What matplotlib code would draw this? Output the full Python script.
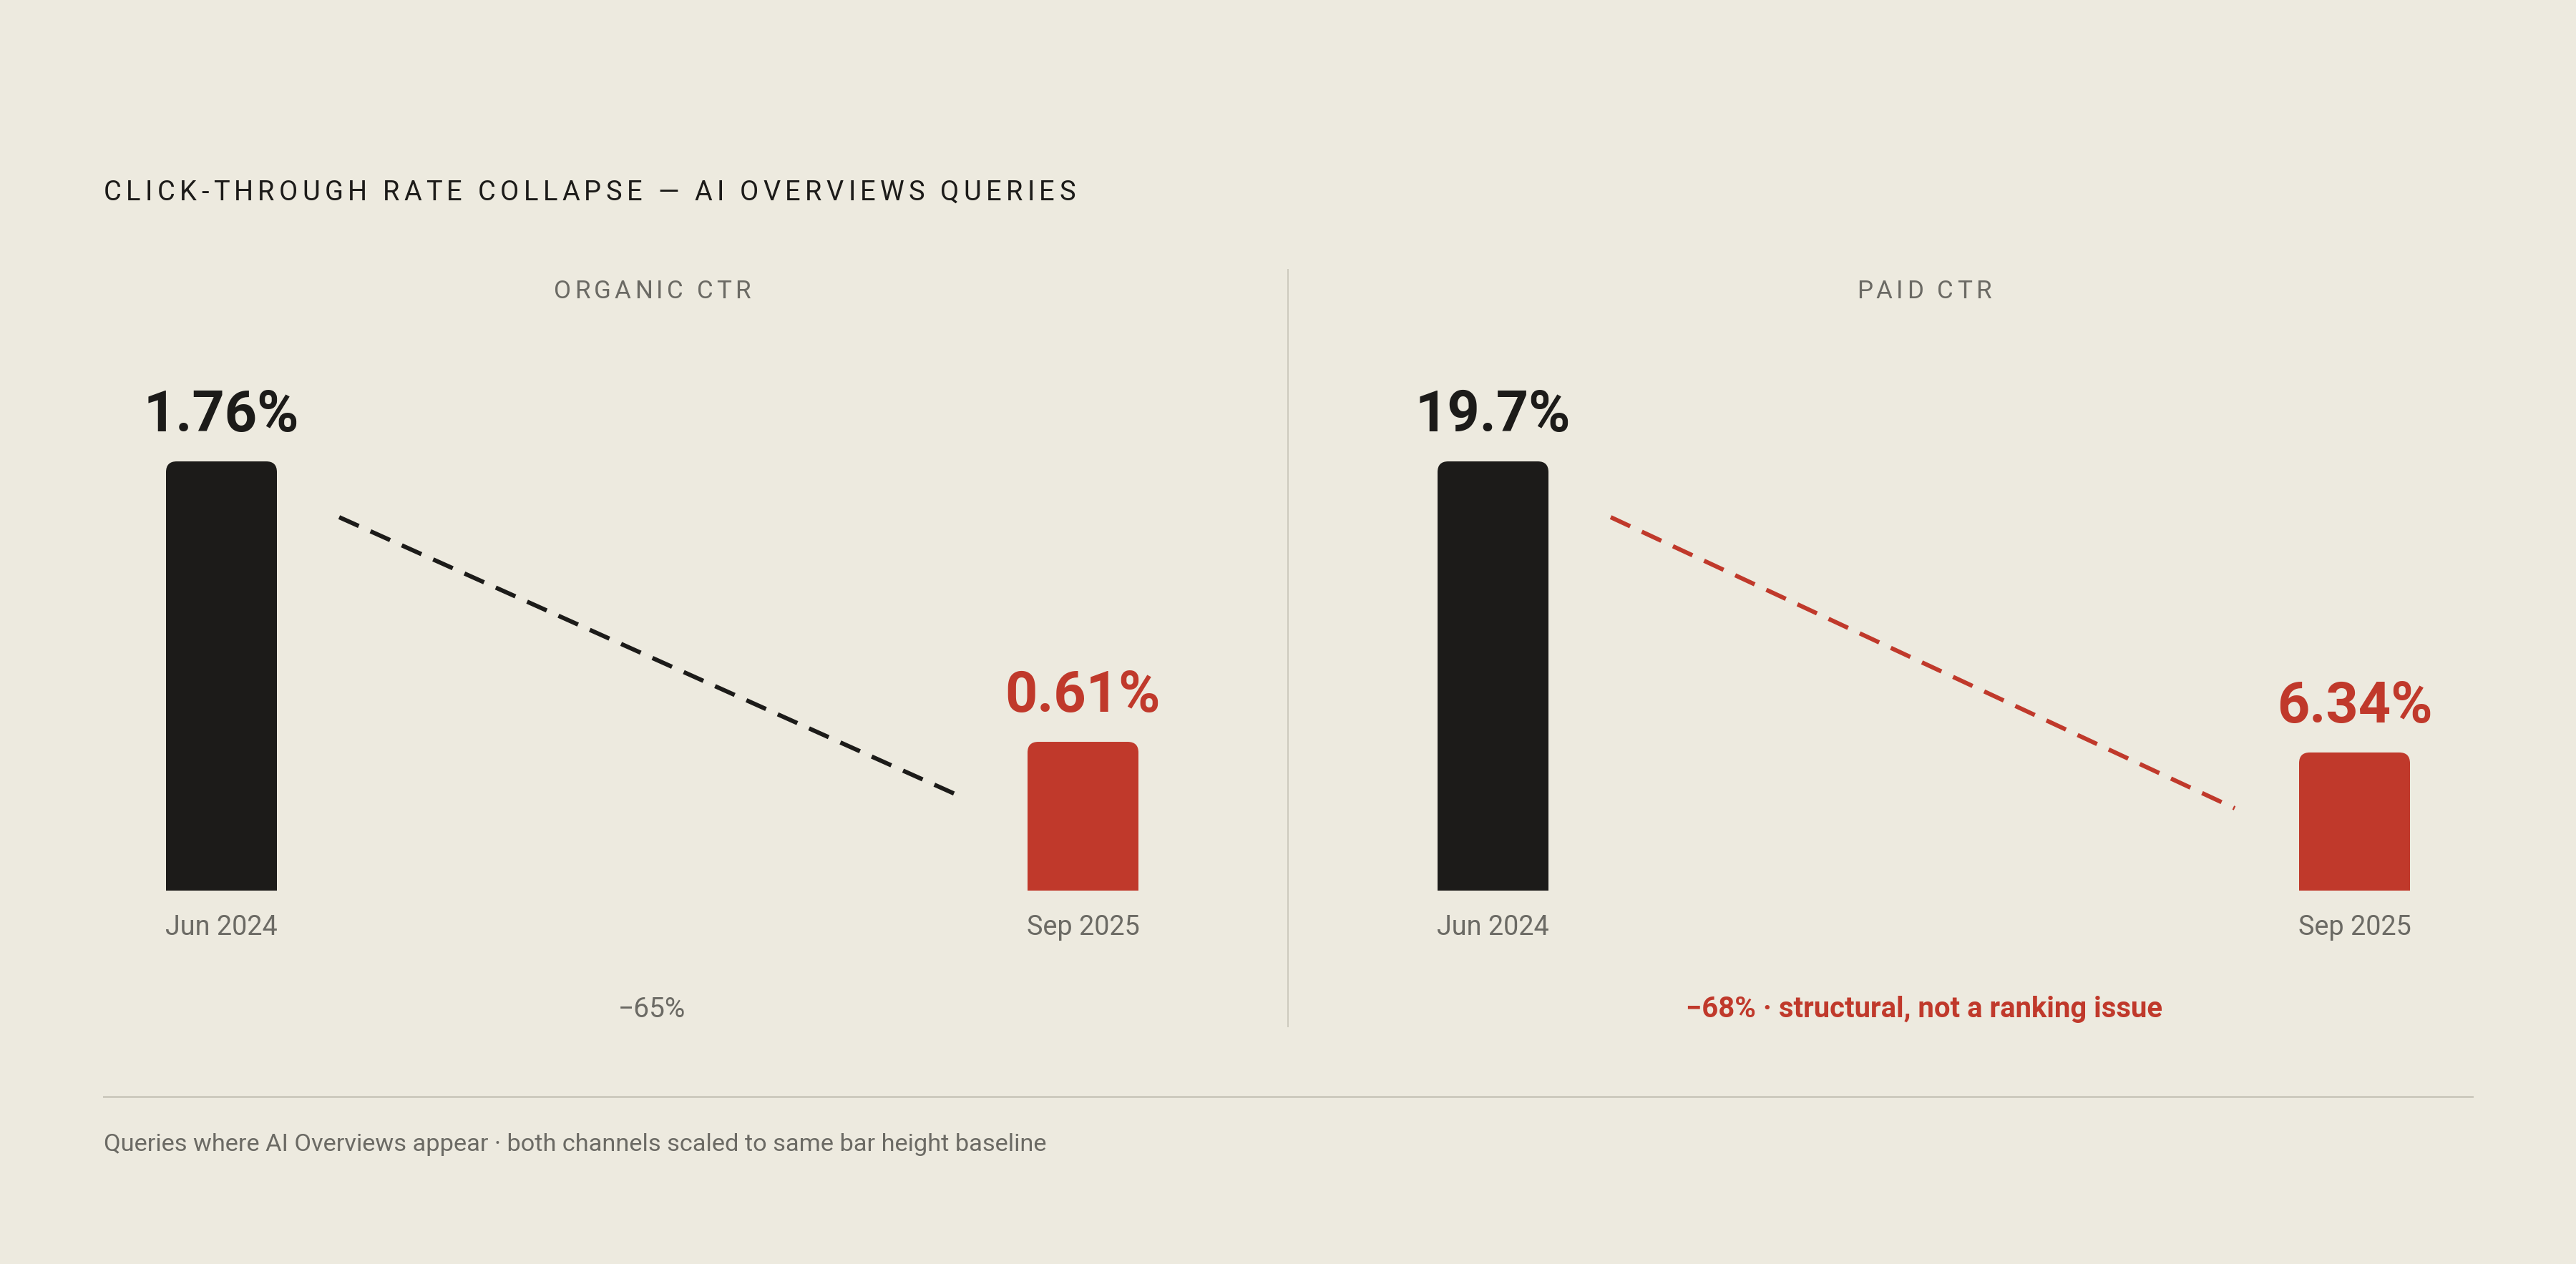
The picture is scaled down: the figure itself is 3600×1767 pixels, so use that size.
import matplotlib.pyplot as plt
from matplotlib.patches import FancyBboxPatch, Rectangle
from matplotlib.transforms import ScaledTranslation

# data
periods = ['Jun 2024', 'Sep 2025']
organic_ctr = [1.76, 0.61]
paid_ctr = [19.7, 6.34]
organic_labels = ['1.76%', '0.61%']
paid_labels = ['19.7%', '6.34%']
organic_change = '\u221265%'
paid_change = '\u221268% \u00b7 structural, not a ranking issue'

title = 'CLICK-THROUGH RATE COLLAPSE \u2014 AI OVERVIEWS QUERIES'
footnote = 'Queries where AI Overviews appear \u00b7 both channels scaled to same bar height baseline'

BG = '#EDEADF'
INK = '#1C1B19'
RED = '#C0392B'
GREY = '#6B6A64'
RULE = '#CDCABE'

W, H, DPI = 3600, 1767, 200
plt.rcParams['font.family'] = ['Roboto', 'DejaVu Sans']

fig = plt.figure(figsize=(W / DPI, H / DPI), dpi=DPI, facecolor=BG)
renderer = fig.canvas.get_renderer()


def px(x, y):
    return x / W, 1 - y / H


def tracked(x, y, s, track, ha='left', **kw):
    # letter-spaced text, drawn char by char
    def width(t):
        tt = fig.text(0, 0, t, **kw)
        w = tt.get_window_extent(renderer).width
        tt.remove()
        return w
    rights = [width(s[:i + 1]) if s[i] != ' ' else 0 for i in range(len(s))]
    total = rights[-1] + (len(s) - 1) * track
    x0 = x - total / 2 if ha == 'center' else x
    for i, c in enumerate(s):
        if c == ' ':
            continue
        fig.text(*px(x0 + rights[i] + i * track, y), c, ha='right', va='baseline', **kw)


BAR_W = 155 / 1204
UNIT = 1204


def panel(left, vals, labels, line_color, name, change, change_kw):
    ax = fig.add_axes([left / W, 1 - 1245 / H, 1359 / W, 600 / H])
    ax.set_xlim(-BAR_W / 2, 1 + BAR_W / 2)
    ax.set_ylim(0, max(vals))
    ax.axis('off')
    aspect = (max(vals) / 600) * UNIT
    colors = [INK, RED]
    for i, v in enumerate(vals):
        p = FancyBboxPatch((i - BAR_W / 2, 0), BAR_W, v,
                           boxstyle='round,pad=0,rounding_size=%f' % (15 / UNIT),
                           mutation_aspect=aspect, fc=colors[i], ec='none', clip_on=False)
        ax.add_patch(p)
        ax.add_patch(Rectangle((i - BAR_W / 2, 0), BAR_W, v / 2, fc=colors[i], ec='none', clip_on=False))
        ax.annotate(labels[i], (i, v), xytext=(0, 42 * 72 / DPI), textcoords='offset points',
                    ha='center', va='baseline', fontsize=28.5, fontweight='bold',
                    color=colors[i], annotation_clip=False)
        ax.annotate(periods[i], (i, 0), xytext=(0, -62 * 72 / DPI), textcoords='offset points',
                    ha='center', va='baseline', fontsize=13.6, color=GREY, annotation_clip=False)
    off = ax.transData + ScaledTranslation(0, -78 / DPI, fig.dpi_scale_trans)
    x0 = BAR_W / 2 + 87 / UNIT
    x1 = 1 - BAR_W / 2 - 90 / UNIT
    ln, = ax.plot([x0, x1], [vals[0], vals[1]], color=line_color, lw=6 * 72 / DPI,
                  transform=off, clip_on=False, solid_capstyle='butt')
    ln.set_dashes((5, 3))
    cx = left + 1359 / 2
    tracked(cx, 417, name, 5.2, ha='center', fontsize=12.6, color=GREY)
    fig.text(*px(cx, 1422), change, ha='center', va='baseline', fontsize=change_kw.pop('size'), **change_kw)


panel(232, organic_ctr, organic_labels, INK, 'ORGANIC CTR', organic_change,
      dict(color=GREY, size=14))
panel(2009, paid_ctr, paid_labels, RED, 'PAID CTR', paid_change,
      dict(color=RED, fontweight='bold', size=14.4))

tracked(145, 280, title, 6.3, fontsize=13.7, color=INK)

# divider and rule
fig.add_artist(plt.Line2D([1800 / W] * 2, [1 - 377 / H, 1 - 1435 / H], color=RULE, lw=2 * 72 / DPI))
fig.add_artist(plt.Line2D([145 / W, 3455 / W], [1 - 1533 / H] * 2, color=RULE, lw=3 * 72 / DPI))

fig.text(*px(145, 1609), footnote, ha='left', va='baseline', fontsize=12.4, color=GREY)

fig.savefig('out.png', dpi=DPI, facecolor=BG)
